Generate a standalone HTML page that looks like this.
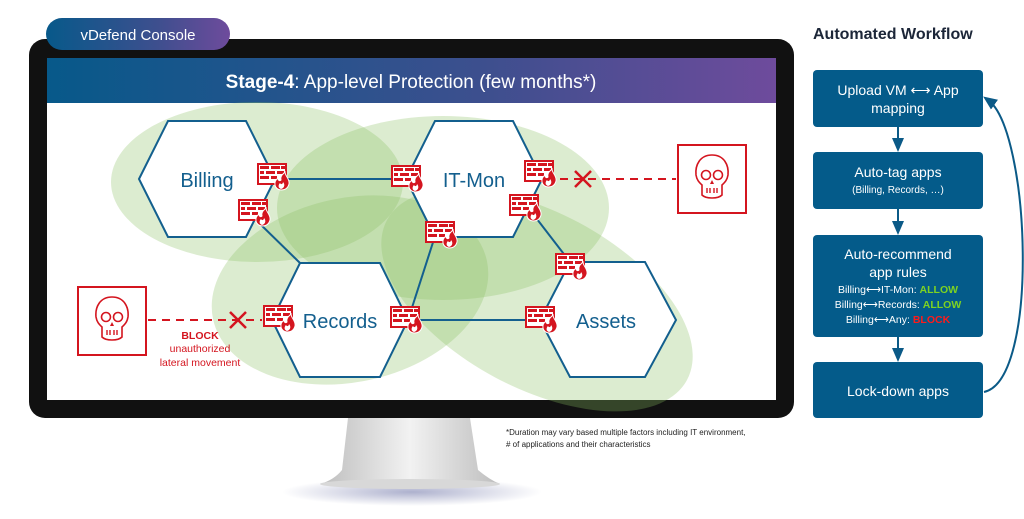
<!DOCTYPE html>
<html><head><meta charset="utf-8"><style>
body{margin:0;background:#fff;}
svg{display:block;font-family:"Liberation Sans",sans-serif;}
</style></head><body>
<svg width="1024" height="519" viewBox="0 0 1024 519" xmlns="http://www.w3.org/2000/svg">
<defs>
<linearGradient id="hd" x1="0" x2="1"><stop offset="0" stop-color="#07598a"/><stop offset="0.6" stop-color="#3d4f8e"/><stop offset="1" stop-color="#6e4b9c"/></linearGradient>
<linearGradient id="st" x1="0" x2="1"><stop offset="0" stop-color="#bdbdbd"/><stop offset="0.5" stop-color="#f2f2f2"/><stop offset="1" stop-color="#bdbdbd"/></linearGradient>
<radialGradient id="sh"><stop offset="0" stop-color="#8a8fb8" stop-opacity="0.7"/><stop offset="1" stop-color="#8a8fb8" stop-opacity="0"/></radialGradient>
<marker id="ar" markerWidth="8" markerHeight="8" refX="4" refY="4" orient="auto"><path d="M0,1 L7,4 L0,7z" fill="#0b5a87"/></marker>
<symbol id="fw" viewBox="0 0 34 28">
<rect x="1" y="1" width="28" height="20" fill="#fff" stroke="#d4151f" stroke-width="2"/>
<g fill="#d4151f"><rect x="3" y="3" width="9" height="3"/><rect x="14" y="3" width="9" height="3"/><rect x="24" y="3" width="4" height="3"/>
<rect x="3" y="8" width="4" height="3"/><rect x="9" y="8" width="9" height="3"/><rect x="20" y="8" width="7" height="3"/>
<rect x="3" y="13" width="9" height="3"/><rect x="14" y="13" width="6" height="3"/></g>
<path d="M24,27 C17,26 16,19 21,15 C21,18 23,18 24,17 C23,13 26,11 28,9 C28,13 33,16 32,21 C31,25 28,27 24,27z" fill="#d4151f" stroke="#fff" stroke-width="1"/>
<path d="M24,26 C21,25 21,22 23,20 C24,22 26,21 26,19 C28,21 28,25 24,26z" fill="#fff"/>
</symbol>
<symbol id="sk" viewBox="0 0 72 72">
<rect x="2" y="2" width="68" height="68" fill="#fff" stroke="#d4151f" stroke-width="2"/>
<path d="M36,12 C24,12 19,22 20,32 C21,38 24,40 26,42 L26,52 C30,56 42,56 46,52 L46,42 C48,40 51,38 52,32 C53,22 48,12 36,12z" fill="#fff" stroke="#d4151f" stroke-width="1.6"/>
<circle cx="30" cy="32" r="4.5" fill="none" stroke="#d4151f" stroke-width="1.6"/><circle cx="42" cy="32" r="4.5" fill="none" stroke="#d4151f" stroke-width="1.6"/>
<path d="M36,37 L34,41 L38,41z" fill="#d4151f"/>
<path d="M31,45 V50 M34,45 V50 M38,45 V50 M41,45 V50" stroke="#d4151f" stroke-width="1.4"/>
</symbol>
</defs>
<ellipse cx="412" cy="492" rx="130" ry="14" fill="url(#sh)"/>
<path d="M348,418 L470,418 L478,470 Q490,480 500,484 L320,484 Q334,480 342,470z" fill="url(#st)"/>
<ellipse cx="410" cy="484" rx="90" ry="5" fill="#d8d8d8"/>
<rect x="29" y="39" width="765" height="379" rx="16" fill="#111"/>
<rect x="47" y="58" width="729" height="342" fill="#fff"/>
<rect x="47" y="58" width="729" height="45" fill="url(#hd)"/>
<text x="411" y="88" text-anchor="middle" fill="#fff" font-size="19"><tspan font-weight="bold">Stage-4</tspan>: App-level Protection (few months*)</text>
<rect x="46" y="18" width="184" height="32" rx="16" fill="url(#hd)"/>
<text x="138" y="40" text-anchor="middle" fill="#fff" font-size="15">vDefend Console</text>
<g fill="#8cc063" fill-opacity="0.3">
<ellipse cx="257" cy="182" rx="146" ry="80"/>
<ellipse cx="443" cy="208" rx="166" ry="92"/>
<ellipse cx="350" cy="290" rx="140" ry="92" transform="rotate(-12 350 290)"/>
<ellipse cx="537" cy="300" rx="170" ry="88" transform="rotate(28 537 300)"/>
</g>
<g stroke="#135f8e" stroke-width="2" fill="none">
<line x1="275" y1="179" x2="406" y2="179"/>
<line x1="408" y1="320" x2="540" y2="320"/>
<line x1="256" y1="220" x2="300" y2="263"/>
<line x1="436" y1="233" x2="408" y2="320"/>
<line x1="530" y1="210" x2="570" y2="262"/>
<polygon points="139,179 168,121 246,121 275,179 246,237 168,237" fill="#fff"/>
<polygon points="406,179 435,121 513,121 542,179 513,237 435,237" fill="#fff"/>
<polygon points="272,320 300,263 380,263 408,320 380,377 300,377" fill="#fff"/>
<polygon points="540,320 570,262 645,262 676,320 645,377 570,377" fill="#fff"/>
</g>
<g fill="#135f8e" font-size="20" text-anchor="middle">
<text x="207" y="187">Billing</text><text x="474" y="187">IT-Mon</text>
<text x="340" y="328">Records</text><text x="606" y="328">Assets</text>
</g>
<g>
<use href="#fw" x="257" y="163" width="34" height="28"/>
<use href="#fw" x="238" y="199" width="34" height="28"/>
<use href="#fw" x="391" y="165" width="34" height="28"/>
<use href="#fw" x="524" y="160" width="34" height="28"/>
<use href="#fw" x="509" y="194" width="34" height="28"/>
<use href="#fw" x="425" y="221" width="34" height="28"/>
<use href="#fw" x="555" y="253" width="34" height="28"/>
<use href="#fw" x="263" y="305" width="34" height="28"/>
<use href="#fw" x="390" y="306" width="34" height="28"/>
<use href="#fw" x="525" y="306" width="34" height="28"/>
</g>
<use href="#sk" x="676" y="143" width="72" height="72"/>
<use href="#sk" x="76" y="285" width="72" height="72"/>
<g stroke="#d4151f" stroke-width="2" fill="none">
<line x1="560" y1="179" x2="676" y2="179" stroke-dasharray="8,6"/>
<path d="M575,171 L591,187 M591,171 L575,187" stroke-width="2.5"/>
<line x1="148" y1="320" x2="262" y2="320" stroke-dasharray="8,6"/>
<path d="M230,312 L246,328 M246,312 L230,328" stroke-width="2.5"/>
</g>
<g fill="#d4151f" font-size="10.5" text-anchor="middle">
<text x="200" y="339" font-weight="bold">BLOCK</text>
<text x="200" y="352">unauthorized</text>
<text x="200" y="366">lateral movement</text>
</g>
<g fill="#222" font-size="8"><text x="506" y="435">*Duration may vary based multiple factors including IT environment,</text><text x="506" y="447"># of applications and their characteristics</text></g>
<text x="813" y="39" font-size="16" font-weight="bold" fill="#1c2638">Automated Workflow</text>
<g fill="#045b8a">
<rect x="813" y="70" width="170" height="57" rx="4"/>
<rect x="813" y="152" width="170" height="57" rx="4"/>
<rect x="813" y="235" width="170" height="102" rx="4"/>
<rect x="813" y="362" width="170" height="56" rx="4"/>
</g>
<g stroke="#0b5a87" stroke-width="2" fill="none">
<line x1="898" y1="127" x2="898" y2="146" marker-end="url(#ar)"/>
<line x1="898" y1="209" x2="898" y2="229" marker-end="url(#ar)"/>
<line x1="898" y1="337" x2="898" y2="356" marker-end="url(#ar)"/>
<path d="M984,392 C1040,380 1030,130 988,100" marker-end="url(#ar)"/>
</g>
<g fill="#fff" text-anchor="middle" font-size="14">
<text x="898" y="95">Upload VM ⟷ App</text><text x="898" y="113">mapping</text>
<text x="898" y="177">Auto-tag apps</text>
<text x="898" y="193" font-size="10">(Billing, Records, …)</text>
<text x="898" y="259">Auto-recommend</text><text x="898" y="277">app rules</text>
<text x="898" y="293" font-size="10.5">Billing⟷IT-Mon: <tspan fill="#7ed321" font-weight="bold">ALLOW</tspan></text>
<text x="898" y="308" font-size="10.5">Billing⟷Records: <tspan fill="#7ed321" font-weight="bold">ALLOW</tspan></text>
<text x="898" y="323" font-size="10.5">Billing⟷Any: <tspan fill="#ff1a1a" font-weight="bold">BLOCK</tspan></text>
<text x="898" y="396">Lock-down apps</text>
</g>
</svg>
</body></html>
